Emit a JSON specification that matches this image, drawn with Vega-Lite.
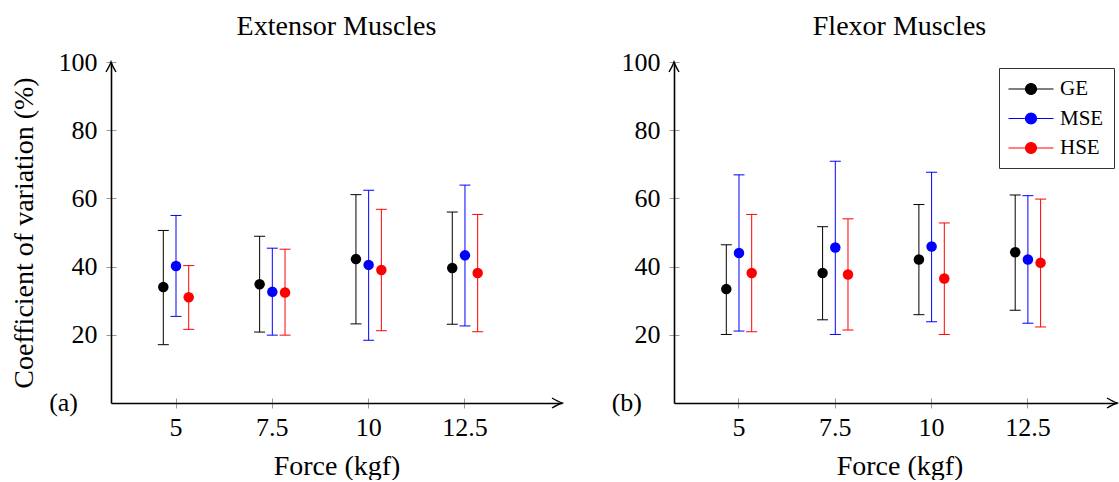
{
  "$schema": "https://vega.github.io/schema/vega-lite/v6.json",
  "padding": {"left": 10, "top": 12, "right": 0, "bottom": 0},
  "config": {
    "font": "Liberation Serif",
    "view": {"stroke": null},
    "title": {"font": "Liberation Serif", "fontSize": 28, "fontWeight": "normal", "color": "black"},
    "axis": {"labelFont": "Liberation Serif", "titleFont": "Liberation Serif", "labelColor": "black", "titleColor": "black", "titleFontWeight": "normal"}
  },
  "datasets": {
    "cv": [
      {"panel": "Extensor", "force": 5, "series": "GE", "mean": 34.0, "lo": 17.1, "hi": 50.6},
      {"panel": "Extensor", "force": 5, "series": "MSE", "mean": 40.2, "lo": 25.4, "hi": 55.0},
      {"panel": "Extensor", "force": 5, "series": "HSE", "mean": 31.0, "lo": 21.6, "hi": 40.3},
      {"panel": "Extensor", "force": 7.5, "series": "GE", "mean": 34.8, "lo": 20.8, "hi": 48.9},
      {"panel": "Extensor", "force": 7.5, "series": "MSE", "mean": 32.6, "lo": 19.9, "hi": 45.4},
      {"panel": "Extensor", "force": 7.5, "series": "HSE", "mean": 32.4, "lo": 19.9, "hi": 45.1},
      {"panel": "Extensor", "force": 10, "series": "GE", "mean": 42.2, "lo": 23.2, "hi": 61.1},
      {"panel": "Extensor", "force": 10, "series": "MSE", "mean": 40.5, "lo": 18.4, "hi": 62.4},
      {"panel": "Extensor", "force": 10, "series": "HSE", "mean": 39.0, "lo": 21.2, "hi": 56.8},
      {"panel": "Extensor", "force": 12.5, "series": "GE", "mean": 39.6, "lo": 23.1, "hi": 56.0},
      {"panel": "Extensor", "force": 12.5, "series": "MSE", "mean": 43.3, "lo": 22.6, "hi": 63.9},
      {"panel": "Extensor", "force": 12.5, "series": "HSE", "mean": 38.1, "lo": 20.9, "hi": 55.3},
      {"panel": "Flexor", "force": 5, "series": "GE", "mean": 33.4, "lo": 20.1, "hi": 46.4},
      {"panel": "Flexor", "force": 5, "series": "MSE", "mean": 44.0, "lo": 21.1, "hi": 66.9},
      {"panel": "Flexor", "force": 5, "series": "HSE", "mean": 38.1, "lo": 20.9, "hi": 55.3},
      {"panel": "Flexor", "force": 7.5, "series": "GE", "mean": 38.1, "lo": 24.4, "hi": 51.7},
      {"panel": "Flexor", "force": 7.5, "series": "MSE", "mean": 45.6, "lo": 20.1, "hi": 70.9},
      {"panel": "Flexor", "force": 7.5, "series": "HSE", "mean": 37.7, "lo": 21.4, "hi": 54.0},
      {"panel": "Flexor", "force": 10, "series": "GE", "mean": 42.1, "lo": 25.9, "hi": 58.2},
      {"panel": "Flexor", "force": 10, "series": "MSE", "mean": 45.9, "lo": 23.8, "hi": 67.7},
      {"panel": "Flexor", "force": 10, "series": "HSE", "mean": 36.5, "lo": 20.1, "hi": 52.8},
      {"panel": "Flexor", "force": 12.5, "series": "GE", "mean": 44.2, "lo": 27.2, "hi": 61.0},
      {"panel": "Flexor", "force": 12.5, "series": "MSE", "mean": 42.1, "lo": 23.4, "hi": 60.8},
      {"panel": "Flexor", "force": 12.5, "series": "HSE", "mean": 41.1, "lo": 22.3, "hi": 59.8}
    ]
  },
  "spacing": 112,
  "bounds": "flush",
  "resolve": {"legend": {"color": "independent"}},
  "hconcat": [
    {
      "width": 451,
      "height": 341,
      "title": {"text": "Extensor Muscles", "offset": 8.3},
      "resolve": {"scale": {"x": "independent"}},
      "layer": [
        {
          "data": {"name": "cv"},
          "transform": [{"filter": "datum.panel == 'Extensor'"}],
          "layer": [
            {
              "mark": {"type": "rule", "strokeWidth": 1},
              "encoding": {
                "x": {"field": "force", "type": "ordinal", "scale": {"type": "band", "paddingInner": 0, "paddingOuter": 0.3411, "align": 0.2565},
                  "axis": {"title": "Force (kgf)", "labelAngle": 0, "labelFontSize": 26, "labelPadding": 6, "titleFontSize": 28, "titlePadding": 12, "domainColor": "black", "domainWidth": 1.6, "tickColor": "#999", "tickSize": 5, "tickWidth": 1, "grid": true, "gridDash": [0, 336, 5, 1000], "gridColor": "#999", "gridWidth": 1, "bandPosition": 0.5}},
                "xOffset": {"field": "series", "type": "nominal", "scale": {"type": "band", "domain": ["GE", "MSE", "HSE"], "range": [29.1, 67.2], "paddingInner": 0, "paddingOuter": 0}},
                "y": {"field": "lo", "type": "quantitative", "scale": {"domain": [0, 100], "nice": false},
                  "axis": {"title": "Coefficient of variation (%)", "values": [20, 40, 60, 80, 100], "labelFontSize": 26, "labelPadding": 9, "titleFontSize": 28, "titlePadding": 20, "domainColor": "black", "domainWidth": 1.6, "tickColor": "#999", "tickSize": 5, "tickWidth": 1, "grid": true, "gridDash": [5, 2000], "gridColor": "#999", "gridWidth": 1}},
                "y2": {"field": "hi"},
                "color": {"field": "series", "type": "nominal", "scale": {"domain": ["GE", "MSE", "HSE"], "range": ["#000000", "#0000ff", "#ff0000"]}, "legend": null}
              }
            },
            {
              "mark": {"type": "tick", "orient": "horizontal", "size": 11, "thickness": 1, "opacity": 1},
              "encoding": {
                "x": {"field": "force", "type": "ordinal"},
                "xOffset": {"field": "series", "type": "nominal"},
                "y": {"field": "lo", "type": "quantitative"},
                "color": {"field": "series", "type": "nominal", "legend": null}
              }
            },
            {
              "mark": {"type": "tick", "orient": "horizontal", "size": 11, "thickness": 1, "opacity": 1},
              "encoding": {
                "x": {"field": "force", "type": "ordinal"},
                "xOffset": {"field": "series", "type": "nominal"},
                "y": {"field": "hi", "type": "quantitative"},
                "color": {"field": "series", "type": "nominal", "legend": null}
              }
            },
            {
              "mark": {"type": "point", "shape": "circle", "filled": true, "size": 110, "opacity": 1},
              "encoding": {
                "x": {"field": "force", "type": "ordinal"},
                "xOffset": {"field": "series", "type": "nominal"},
                "y": {"field": "mean", "type": "quantitative"},
                "color": {"field": "series", "type": "nominal", "legend": null}
              }
            }
          ]
        },
        {
          "data": {"values": [{"end": "y"}]},
          "mark": {"type": "point", "shape": "M -0.5 1 Q -0.12 0.35 0 0 Q 0.12 0.35 0.5 1", "filled": false, "stroke": "black", "strokeWidth": 1.4, "size": 400, "opacity": 1},
          "encoding": {
            "x": {"datum": 0, "type": "quantitative", "scale": {"domain": [0, 1], "nice": false}, "axis": null},
            "y": {"datum": 100, "type": "quantitative"}
          }
        },
        {
          "data": {"values": [{"end": "x"}]},
          "mark": {"type": "point", "shape": "M -1 -0.5 Q -0.35 -0.12 0 0 Q -0.35 0.12 -1 0.5", "filled": false, "stroke": "black", "strokeWidth": 1.4, "size": 400, "opacity": 1},
          "encoding": {
            "x": {"datum": 1, "type": "quantitative", "scale": {"domain": [0, 1], "nice": false}, "axis": null},
            "y": {"datum": 0, "type": "quantitative"}
          }
        },
        {
          "data": {"values": [{"tag": "(a)"}]},
          "mark": {"type": "text", "fontSize": 26, "align": "right", "baseline": "middle", "dx": -33, "color": "black"},
          "encoding": {
            "text": {"field": "tag"},
            "x": {"datum": 0, "type": "quantitative", "scale": {"domain": [0, 1], "nice": false}, "axis": null},
            "y": {"datum": 0, "type": "quantitative"}
          }
        }
      ]
    },
    {
      "width": 443,
      "height": 341,
      "title": {"text": "Flexor Muscles", "offset": 8.3, "dx": 4},
      "resolve": {"scale": {"x": "independent"}},
      "layer": [
        {
          "data": {"name": "cv"},
          "transform": [{"filter": "datum.panel == 'Flexor'"}],
          "layer": [
            {
              "mark": {"type": "rule", "strokeWidth": 1},
              "encoding": {
                "x": {"field": "force", "type": "ordinal", "scale": {"type": "band", "paddingInner": 0, "paddingOuter": 0.3001, "align": 0.2915},
                  "axis": {"title": "Force (kgf)", "titleX": 225.5, "labelAngle": 0, "labelFontSize": 26, "labelPadding": 6, "titleFontSize": 28, "titlePadding": 12, "domainColor": "black", "domainWidth": 1.6, "tickColor": "#999", "tickSize": 5, "tickWidth": 1, "grid": true, "gridDash": [0, 336, 5, 1000], "gridColor": "#999", "gridWidth": 1, "bandPosition": 0.5}},
                "xOffset": {"field": "series", "type": "nominal", "scale": {"type": "band", "domain": ["GE", "MSE", "HSE"], "range": [29.1, 67.2], "paddingInner": 0, "paddingOuter": 0}},
                "y": {"field": "lo", "type": "quantitative", "scale": {"domain": [0, 100], "nice": false},
                  "axis": {"title": null, "values": [20, 40, 60, 80, 100], "labelFontSize": 26, "labelPadding": 9, "domainColor": "black", "domainWidth": 1.6, "tickColor": "#999", "tickSize": 5, "tickWidth": 1, "grid": true, "gridDash": [5, 2000], "gridColor": "#999", "gridWidth": 1}},
                "y2": {"field": "hi"},
                "color": {"field": "series", "type": "nominal", "scale": {"domain": ["GE", "MSE", "HSE"], "range": ["#000000", "#0000ff", "#ff0000"]}}
              }
            },
            {
              "mark": {"type": "tick", "orient": "horizontal", "size": 11, "thickness": 1, "opacity": 1},
              "encoding": {
                "x": {"field": "force", "type": "ordinal"},
                "xOffset": {"field": "series", "type": "nominal"},
                "y": {"field": "lo", "type": "quantitative"},
                "color": {"field": "series", "type": "nominal"}
              }
            },
            {
              "mark": {"type": "tick", "orient": "horizontal", "size": 11, "thickness": 1, "opacity": 1},
              "encoding": {
                "x": {"field": "force", "type": "ordinal"},
                "xOffset": {"field": "series", "type": "nominal"},
                "y": {"field": "hi", "type": "quantitative"},
                "color": {"field": "series", "type": "nominal"}
              }
            },
            {
              "mark": {"type": "point", "shape": "circle", "filled": true, "size": 110, "opacity": 1},
              "encoding": {
                "x": {"field": "force", "type": "ordinal"},
                "xOffset": {"field": "series", "type": "nominal"},
                "y": {"field": "mean", "type": "quantitative"},
                "color": {"field": "series", "type": "nominal",
                  "legend": {"orient": "none", "legendX": 325, "legendY": 6, "title": null,
                    "symbolType": "M -2.25 0 L 2.25 0 M 0.55 0 A 0.55 0.55 0 1 1 -0.55 0 A 0.55 0.55 0 1 1 0.55 0 Z",
                    "symbolSize": 400, "symbolStrokeWidth": 1.2, "symbolOffset": 11, "labelFontSize": 21, "labelFont": "Liberation Serif", "labelColor": "black", "labelOffset": 18,
                    "padding": 10, "rowPadding": 8.5, "strokeColor": "#333333", "fillColor": "white",
                    "encode": {"symbols": {"update": {"stroke": {"scale": "color", "field": "value"}, "fill": {"scale": "color", "field": "value"}, "opacity": {"value": 1}}}}}}
              }
            }
          ]
        },
        {
          "data": {"values": [{"end": "y"}]},
          "mark": {"type": "point", "shape": "M -0.5 1 Q -0.12 0.35 0 0 Q 0.12 0.35 0.5 1", "filled": false, "stroke": "black", "strokeWidth": 1.4, "size": 400, "opacity": 1},
          "encoding": {
            "x": {"datum": 0, "type": "quantitative", "scale": {"domain": [0, 1], "nice": false}, "axis": null},
            "y": {"datum": 100, "type": "quantitative"}
          }
        },
        {
          "data": {"values": [{"end": "x"}]},
          "mark": {"type": "point", "shape": "M -1 -0.5 Q -0.35 -0.12 0 0 Q -0.35 0.12 -1 0.5", "filled": false, "stroke": "black", "strokeWidth": 1.4, "size": 400, "opacity": 1},
          "encoding": {
            "x": {"datum": 1, "type": "quantitative", "scale": {"domain": [0, 1], "nice": false}, "axis": null},
            "y": {"datum": 0, "type": "quantitative"}
          }
        },
        {
          "data": {"values": [{"tag": "(b)"}]},
          "mark": {"type": "text", "fontSize": 26, "align": "right", "baseline": "middle", "dx": -32, "color": "black"},
          "encoding": {
            "text": {"field": "tag"},
            "x": {"datum": 0, "type": "quantitative", "scale": {"domain": [0, 1], "nice": false}, "axis": null},
            "y": {"datum": 0, "type": "quantitative"}
          }
        }
      ]
    }
  ]
}
